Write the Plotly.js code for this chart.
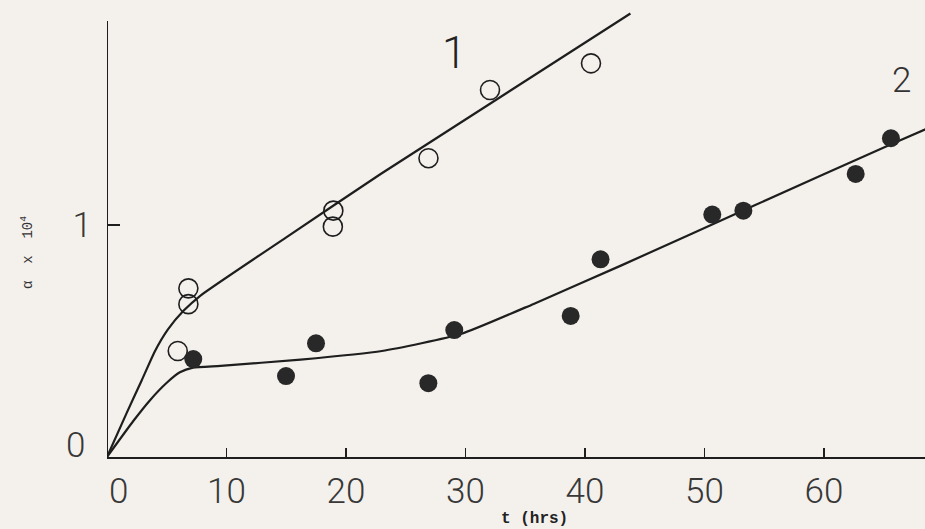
<!DOCTYPE html>
<html><head><meta charset="utf-8">
<script src="https://cdn.plot.ly/plotly-3.0.1.min.js"></script>
<style>html,body{margin:0;padding:0;background:#f4f1ed;}</style>
</head><body><div id="chart" style="width:925px;height:529px;"></div>
<script>
// Series 1 (open circles)
const t1 = [5.92, 6.81, 6.81, 18.9, 18.94, 26.9, 32.05, 40.5];
const a1 = [0.457, 0.727, 0.659, 0.993, 1.062, 1.288, 1.582, 1.697];
// Series 2 (filled circles)
const t2 = [7.22, 14.98, 17.49, 26.89, 29.06, 38.8, 41.3, 50.65, 53.25, 62.65, 65.6];
const a2 = [0.422, 0.349, 0.49, 0.318, 0.547, 0.608, 0.852, 1.045, 1.062, 1.22, 1.374];
// Fitted curve 1
const c1t = [0, 1.65, 2.9, 4.0, 5.1, 6.4, 7.8, 15.0, 22.9, 43.8];
const c1a = [0, 0.19, 0.33, 0.455, 0.55, 0.63, 0.695, 0.947, 1.22, 1.912];
// Fitted curve 2
const c2t = [0, 2.2, 3.6, 5.0, 6.1, 7.2, 9.5, 16.2, 23.0, 29.6, 35.7, 43.0, 54.2, 65.9, 68.6];
const c2a = [0, 0.155, 0.245, 0.32, 0.365, 0.385, 0.393, 0.42, 0.457, 0.53, 0.66, 0.825, 1.085, 1.355, 1.415];
const xTicks = [10, 20, 30, 40, 50, 60];
const yTicks = [1];

const ink = '#1e1e1e';
const numFont = {size: 35, family: 'Roboto, sans-serif', weight: 300, color: '#383838'};
const traces = [
  {x: c1t, y: c1a, mode: 'lines', line: {color: ink, width: 2.2, shape: 'spline', smoothing: 0.5}, hoverinfo: 'skip'},
  {x: c2t, y: c2a, mode: 'lines', line: {color: ink, width: 2.2, shape: 'spline', smoothing: 0.5}, hoverinfo: 'skip'},
  {x: t1, y: a1, mode: 'markers', marker: {symbol: 'circle-open', size: 19, color: ink, line: {width: 1.6, color: ink}}},
  {x: t2, y: a2, mode: 'markers', marker: {symbol: 'circle', size: 18, color: '#282828', line: {width: 0}}}
];

const layout = {
  width: 925, height: 529,
  paper_bgcolor: '#f4f1ed', plot_bgcolor: '#f4f1ed',
  margin: {l: 107, r: 0, t: 0, b: 72},
  showlegend: false,
  font: {family: 'Roboto, sans-serif', color: '#333'},
  xaxis: {
    range: [0, 68.45], tickvals: xTicks, ticktext: xTicks.map(String), ticks: 'inside', ticklen: 9, tickwidth: 1.5, tickcolor: ink,
    showline: true, linecolor: ink, linewidth: 2, zeroline: false, showgrid: false,
    tickfont: numFont, ticklabelstandoff: 2
  },
  yaxis: {
    range: [0, 1.970], tickvals: yTicks, ticktext: ['1'], ticks: 'inside', ticklen: 13, tickwidth: 1.5, tickcolor: ink,
    showline: false, zeroline: false, showgrid: false,
    tickfont: numFont, ticklabelstandoff: 14
  },
  shapes: [
    {type: 'line', xref: 'x', yref: 'y', x0: 0, x1: 0, y0: 0, y1: 1.879, line: {color: ink, width: 2}}
  ],
  annotations: [
    // y-axis "0"
    {x: -0.0379, y: 0.026, xref: 'paper', yref: 'paper', text: '0', showarrow: false, xanchor: 'center', yanchor: 'middle', font: numFont},
    // x-axis "0"
    {x: 0, y: 0, xref: 'x', yref: 'y', text: '0', showarrow: false, xanchor: 'center', yanchor: 'middle', xshift: 11, yshift: -34, font: numFont},
    // axis titles
    {x: 0.523, y: -0.135, xref: 'paper', yref: 'paper', text: 't (hrs)', showarrow: false, xanchor: 'center', yanchor: 'middle',
     font: {size: 16, family: 'Liberation Mono, DejaVu Sans Mono, monospace', weight: 'bold', color: '#222'}},
    {x: -0.0978, y: 0.4486, xref: 'paper', yref: 'paper', text: 'α  x  10<sup>4</sup>', textangle: -90, showarrow: false, xanchor: 'center', yanchor: 'middle',
     font: {size: 14, family: 'Liberation Mono, DejaVu Sans Mono, monospace', color: '#333'}},
    // curve labels
    {x: 29.0, y: 1.74, xref: 'x', yref: 'y', text: '1', showarrow: false, font: {size: 44, family: 'Roboto, sans-serif', weight: 300, color: '#222'}},
    {x: 66.5, y: 1.625, xref: 'x', yref: 'y', text: '2', showarrow: false, font: {size: 35, family: 'Roboto, sans-serif', weight: 300, color: '#333'}}
  ]
};
Plotly.newPlot('chart', traces, layout, {staticPlot: true, displayModeBar: false});
</script></body></html>
